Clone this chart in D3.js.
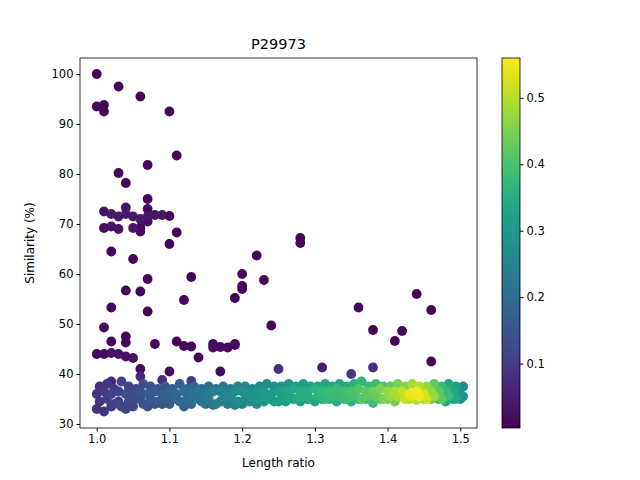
<!DOCTYPE html><html><head><meta charset="utf-8">
<script src="https://cdn.jsdelivr.net/npm/d3@7"></script>
<style>body{margin:0;background:#fff}text{font-family:"DejaVu Sans",sans-serif}</style></head><body>
<svg id="c" width="640" height="480"></svg>
<script>
const title="P29973";
const outX=[1.0,1.0,1.01,1.01,1.03,1.06,1.10,1.11,1.03,1.07,1.04,1.07,1.07,1.01,1.02,1.03,1.04,1.04,1.05,1.06,1.07,1.08,1.09,1.10,1.01,1.02,1.03,1.05,1.06,1.06,1.07,1.11,1.10,1.02,1.05,1.07,1.13,1.04,1.06,1.12,1.07,1.02,1.01,1.04,1.02,1.04,1.08,1.11,1.12,1.13,1.14,1.00,1.01,1.02,1.03,1.04,1.05,1.06,1.10,1.16,1.17,1.18,1.19,1.16,1.19,1.17,1.19,1.20,1.20,1.20,1.22,1.23,1.24,1.28,1.28,1.36,1.38,1.41,1.42,1.44,1.46,1.46,1.25,1.31,1.38,1.35,1.02,1.06,1.09,1.13];
const outY=[100,93.5,93.8,92.5,97.5,95.5,92.5,83.7,80.2,81.8,78.2,75,73,72.5,72,71.5,73.3,72,71.5,71,71.5,71.8,71.8,71.6,69.2,69.5,69,69.2,68.5,69.3,70.5,68.3,66,64.5,63,59,59.4,56.7,56.5,54.8,52.5,53.3,49.3,47.5,46.5,46.3,46,46.5,45.6,45.5,43.3,44,44,44.2,44,43.5,43.2,41,40.5,45.3,45.4,45.3,45.8,46,46,40.5,55.2,57,57.6,60,63.7,58.8,49.7,67.2,66.2,53.3,48.8,46.6,48.6,56,52.8,42.5,41,41.3,41.3,40,38.5,39.5,38.8,38.6];
const outC=[0.01,0.01,0.01,0.01,0.01,0.01,0.01,0.01,0.01,0.01,0.01,0.01,0.01,0.03,0.04,0.04,0.03,0.04,0.04,0.04,0.03,0.03,0.03,0.02,0.02,0.03,0.03,0.03,0.02,0.02,0.02,0.01,0.01,0.01,0.01,0.01,0.01,0.01,0.01,0.01,0.01,0.01,0.01,0.01,0.01,0.01,0.01,0.01,0.01,0.01,0.01,0.02,0.02,0.03,0.03,0.03,0.03,0.02,0.02,0.02,0.02,0.02,0.02,0.02,0.02,0.02,0.01,0.01,0.01,0.01,0.01,0.01,0.01,0.01,0.01,0.01,0.01,0.01,0.01,0.01,0.01,0.01,0.08,0.05,0.08,0.1,0.06,0.07,0.08,0.1];
const bandX=[1.00,1.01,1.02,1.03,1.04,1.05,1.06,1.07,1.08,1.09,1.10,1.11,1.12,1.13,1.14,1.15,1.16,1.17,1.18,1.19,1.20,1.21,1.22,1.23,1.24,1.25,1.26,1.27,1.28,1.29,1.30,1.31,1.32,1.33,1.34,1.35,1.36,1.37,1.38,1.39,1.40,1.41,1.42,1.43,1.44,1.45,1.46,1.47,1.48,1.49,1.50];
const bandY1=[34.5,35,34,33.5,34.5,35,34,35,34.5,35,35.5,34.5,35,35,34.5,35,34,35,35.5,34.5,35,35.5,35,35,34.5,35,35.5,35,35.5,35,35.5,35,35.5,35.5,35,35.5,35,35.5,35.5,35,35.5,35.5,35,35.5,35.5,35,35.5,35,35.5,35,35.5];
const bandY2=[36,36.5,36,36.5,36,36,36.5,36,36.5,36,36.5,36,36.5,36,36.5,36,36.5,36.5,36,36.5,36.5,36,36.5,36.5,36,36.5,36.5,37,36.5,36.5,37,36.5,36.5,37,36.5,36.5,37,36.5,36.5,37,36.5,36.5,36.5,36,36.5,36,36.5,36.5,36.5,36.5,36];
const bandY3=[37.5,38,37,38.5,37.5,37,38,37.5,37,37.5,37,38,37,37.5,37,37.5,37,37.5,37,37.5,37.5,37,37.5,38,37.5,37.5,38,37.5,38,37.5,37.5,38,37.5,38,37.5,38,38.5,37.5,38,37.5,37.5,38,37.5,38,37.5,37.5,38,37.5,38,37.5,37.5];
const bandY4=[33,32.5,33.5,34.5,33,33.5,35,33.5,34,34,34,35,33.5,34,35,34,33.8,34.5,34,33.8,34,34.5,34,34.5,35,34.5,34.5,35,34.5,35,34.5,35,35,34.5,35,34.5,35,35,34.2,35,35,34.5,35.5,35,34.8,35,35,35,34.5,35,35];
const bandC=[0.09,0.1,0.11,0.12,0.13,0.14,0.15,0.16,0.16,0.17,0.18,0.19,0.2,0.21,0.22,0.23,0.24,0.25,0.26,0.27,0.28,0.29,0.3,0.31,0.31,0.32,0.33,0.34,0.35,0.35,0.36,0.37,0.38,0.38,0.39,0.4,0.41,0.42,0.43,0.45,0.47,0.49,0.51,0.54,0.55,0.52,0.47,0.42,0.38,0.34,0.3];
const xTicks=[1.0,1.1,1.2,1.3,1.4,1.5], yTicks=[30,40,50,60,70,80,90,100], cTicks=[0.1,0.2,0.3,0.4,0.5];

const svg=d3.select("#c");
const L=80,R=477,T=58,B=428;
const x=d3.scaleLinear().domain([0.977,1.523]).range([L,R]);
const y=d3.scaleLinear().domain([29.2,103.2]).range([B,T]);
const col=d3.scaleSequential(d3.interpolateViridis).domain([0.003,0.56]);
const pts=[];
bandX.forEach((v,i)=>{[bandY4,bandY1,bandY2,bandY3].forEach((a,k)=>pts.push({x:v+(k%2?0.004:0),y:a[i],c:bandC[i]*(k==0||k==3?0.9:1)}));});
outX.forEach((v,i)=>pts.push({x:v,y:outY[i],c:outC[i]}));
pts.sort((a,b)=>a.c-b.c);
svg.append("g").selectAll("circle").data(pts).join("circle").attr("cx",d=>x(d.x)).attr("cy",d=>y(d.y)).attr("r",4.9).attr("fill",d=>col(d.c));
svg.append("rect").attr("x",L).attr("y",T).attr("width",R-L).attr("height",B-T).attr("fill","none").attr("stroke","#000").attr("stroke-width",0.8);
const ax=svg.append("g").attr("transform",`translate(0,${B})`).call(d3.axisBottom(x).tickValues(xTicks).tickFormat(d3.format(".1f")).tickSize(3.5));
const ay=svg.append("g").attr("transform",`translate(${L},0)`).call(d3.axisLeft(y).tickValues(yTicks).tickSize(3.5));
[ax,ay].forEach(a=>{a.select(".domain").remove();a.selectAll("text").attr("font-size",11.5).attr("fill","#000");});
svg.append("text").attr("x",(L+R)/2).attr("y",49).attr("text-anchor","middle").attr("font-size",14.5).text(title);
svg.append("text").attr("x",(L+R)/2).attr("y",467).attr("text-anchor","middle").attr("font-size",12).text("Length ratio");
svg.append("text").attr("transform",`translate(34,${(T+B)/2}) rotate(-90)`).attr("text-anchor","middle").attr("font-size",12).text("Similarity (%)");
const cx0=502,cw=18;
const cs=d3.scaleLinear().domain([0.003,0.56]).range([B,T]);
const defs=svg.append("defs").append("linearGradient").attr("id","g").attr("x1",0).attr("y1",1).attr("x2",0).attr("y2",0);
d3.range(0,1.01,0.05).forEach(t=>defs.append("stop").attr("offset",t).attr("stop-color",d3.interpolateViridis(t)));
svg.append("rect").attr("x",cx0).attr("y",T).attr("width",cw).attr("height",B-T).attr("fill","url(#g)").attr("stroke","#000").attr("stroke-width",0.8);
const ac=svg.append("g").attr("transform",`translate(${cx0+cw},0)`).call(d3.axisRight(cs).tickValues(cTicks).tickFormat(d3.format(".1f")).tickSize(3.5));
ac.select(".domain").remove();ac.selectAll("text").attr("font-size",11.5).attr("fill","#000");
</script></body></html>
